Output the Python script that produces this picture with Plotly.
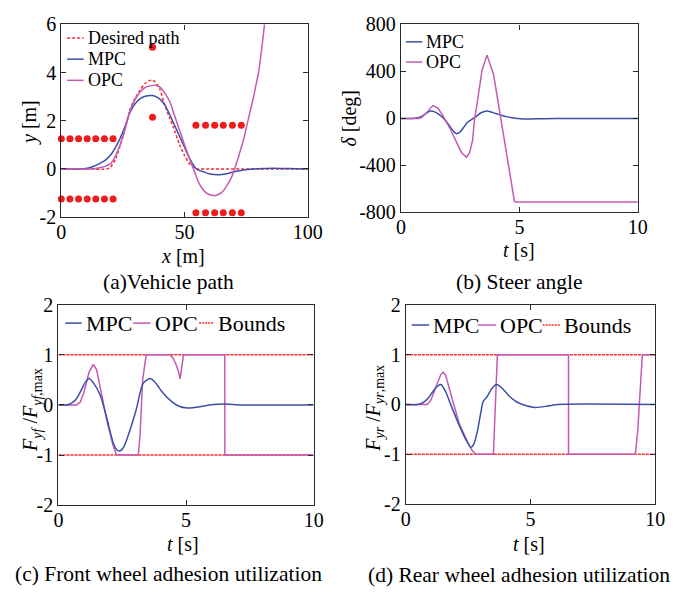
import plotly.graph_objects as go

# ---------------- data ----------------
# (a) Vehicle path
desired_x = [0, 10, 18.5, 20, 22, 24, 26, 28, 30, 32, 34, 36, 37, 38, 40, 41.5, 44, 45.4, 48, 50, 52, 54, 55, 60, 80, 100]
desired_y = [0, 0, 0, 0.08, 0.42, 1.0, 1.7, 2.5, 2.95, 3.28, 3.55, 3.68, 3.68, 3.62, 3.3, 2.8, 2.1, 1.75, 1.0, 0.56, 0.22, 0.03, 0, 0, 0, 0]
mpc_x = [0, 8, 10, 12, 14, 16, 18, 20, 22, 24, 26, 27.7, 30, 32, 34, 36.9, 38, 40, 42, 44, 46, 48, 50, 52, 54.8, 58, 60, 63.8, 67, 70, 74, 78, 82, 86, 90, 95, 100]
mpc_y = [0, 0, 0.02, 0.07, 0.15, 0.25, 0.38, 0.58, 0.9, 1.3, 1.8, 2.32, 2.72, 2.92, 3.02, 3.05, 3.02, 2.9, 2.65, 2.25, 1.8, 1.35, 0.9, 0.45, 0, -0.13, -0.2, -0.24, -0.2, -0.12, -0.04, 0, 0.02, 0.03, 0.02, 0.01, 0]
opc_x = [0, 12, 14, 16, 18, 20, 22, 24, 26, 27.7, 30, 32, 34, 36, 38.2, 40, 42, 44, 46, 48, 49.3, 50, 52, 54, 56, 58, 60, 62.5, 65, 67, 69, 70.3, 72, 74, 75.3, 76.5, 78, 79, 80, 81, 82.1, 83, 84]
opc_y = [0, 0, 0.02, 0.06, 0.12, 0.22, 0.55, 1.05, 1.7, 2.38, 2.9, 3.2, 3.38, 3.45, 3.48, 3.4, 3.15, 2.8, 2.2, 1.6, 1.22, 1.0, 0.43, -0.1, -0.62, -0.92, -1.06, -1.1, -0.98, -0.72, -0.35, 0, 0.55, 1.25, 1.82, 2.35, 3.0, 3.5, 4.0, 4.75, 5.7, 6.5, 7.3]
obs_x = [0, 3.5, 7, 10.5, 14, 17.5, 21, 0, 3.5, 7, 10.5, 14, 17.5, 21, 37, 37,
         54.6, 58.5, 62.2, 65.7, 69.4, 73, 54.6, 58.5, 62.2, 65.7, 69.4, 73]
obs_y = [1.25] * 7 + [-1.25] * 7 + [5.05, 2.15] + [1.82] * 6 + [-1.82] * 6

# (b) Steer angle
steer_mpc_t = [0, 0.5, 0.7, 0.9, 1.1, 1.24, 1.4, 1.6, 1.8, 2.0, 2.2, 2.34, 2.5, 2.65, 2.81, 3.02, 3.2, 3.4, 3.63, 3.8, 4.0, 4.25, 4.5, 4.75, 4.93, 5.3, 6, 7, 10]
steer_mpc = [0, 0, 5, 20, 48, 63, 58, 35, 0, -50, -105, -130, -115, -75, -33, -5, 20, 50, 63, 55, 42, 27, 13, 4, 0, -5, -3, 0, 0]
steer_opc_t = [0, 0.76, 0.9, 1.1, 1.35, 1.55, 1.75, 2.06, 2.3, 2.55, 2.77, 2.9, 3.02, 3.11, 3.22, 3.42, 3.63, 3.75, 3.9, 3.97, 4.2, 4.4, 4.6, 4.79, 4.85, 10]
steer_opc = [0, 0, 10, 55, 109, 90, 30, -82, -190, -290, -332, -290, -190, 0, 136, 408, 539, 470, 381, 299, 20, -225, -470, -707, -713, -713]

# (c) Front wheel adhesion utilization
front_mpc_t = [0, 0.32, 0.5, 0.7, 0.9, 1.05, 1.2, 1.4, 1.65, 1.9, 2.15, 2.3, 2.4, 2.55, 2.72, 3.04, 3.32, 3.6, 3.8, 4.05, 4.43, 4.7, 5.06, 5.7, 6.07, 6.5, 7.2, 10]
front_mpc = [0, 0, 0.03, 0.12, 0.3, 0.45, 0.53, 0.42, 0.18, -0.27, -0.76, -0.9, -0.92, -0.85, -0.63, -0.11, 0.43, 0.53, 0.45, 0.27, 0.07, -0.02, -0.06, -0.02, 0.01, 0.02, 0, 0]
front_opc_t = [0, 0.7, 0.85, 1.0, 1.2, 1.37, 1.5, 1.65, 1.9, 2.15, 2.28, 3.13, 3.2, 3.3, 3.44, 4.37, 4.5, 4.6, 4.7, 4.77, 4.85, 4.9, 6.52, 6.521, 10]
front_opc = [0, 0, 0.05, 0.25, 0.65, 0.81, 0.7, 0.34, -0.31, -0.82, -1, -1, -0.6, 0.5, 1, 1, 0.93, 0.82, 0.68, 0.52, 0.85, 1, 1, -1, -1]

# (d) Rear wheel adhesion utilization
rear_mpc_t = [0, 0.47, 0.7, 0.9, 1.1, 1.25, 1.41, 1.6, 1.83, 2.15, 2.4, 2.61, 2.72, 2.87, 3.0, 3.1, 3.26, 3.45, 3.64, 3.85, 4.16, 4.45, 4.68, 5.2, 5.7, 6.1, 10]
rear_mpc = [0, 0, 0.04, 0.13, 0.27, 0.36, 0.4, 0.25, -0.04, -0.43, -0.7, -0.86, -0.8, -0.53, -0.18, 0.06, 0.16, 0.32, 0.4, 0.33, 0.16, 0.05, 0, -0.06, -0.03, 0, 0]
rear_opc_t = [0, 0.86, 1.0, 1.2, 1.4, 1.5, 1.6, 1.83, 2.15, 2.48, 2.65, 2.8, 3.51, 3.67, 6.52, 6.521, 9.2, 9.3, 9.4, 9.48, 10]
rear_opc = [0, 0, 0.08, 0.35, 0.6, 0.65, 0.58, 0.16, -0.4, -0.76, -0.92, -1, -1, 1, 1, -1, -1, -0.5, 0.3, 1, 1]

bound_t = [0, 10]
bound_up = [1, 1]
bound_lo = [-1, -1]

# tick labels
a_xticks = [0, 50, 100]
a_yticks = [-2, 0, 2, 4, 6]
b_yticks = [-800, -400, 0, 400, 800]
t_ticks = [0, 5, 10]
f_yticks = [-2, -1, 0, 1, 2]

# ---------------- style ----------------
W, H = 680, 598
FONT = "Liberation Serif, Times New Roman, serif"
C_MPC = "#3B4FA8"
C_OPC = "#C45AB3"
C_RED = "#FF2A2A"
LW = 1.5


def px(x, y):
    return x / W, 1 - y / H


def dom(x0, x1, y0, y1):
    return [x0 / W, x1 / W], [1 - y1 / H, 1 - y0 / H]


fig = go.Figure()


def line(x, y, color, n, dash=None, name="", smooth=False):
    ln = dict(color=color, width=LW, dash=dash)
    if smooth:
        ln.update(shape="spline", smoothing=0.7)
    fig.add_trace(go.Scatter(x=x, y=y, mode="lines", name=name, showlegend=False, line=ln,
                             xaxis="x" + (str(n) if n > 1 else ""), yaxis="y" + (str(n) if n > 1 else "")))


# (a)
line(desired_x, desired_y, C_RED, 1, dash="3px,2px", name="Desired path", smooth=True)
line(mpc_x, mpc_y, C_MPC, 1, name="MPC", smooth=True)
line(opc_x, opc_y, C_OPC, 1, name="OPC", smooth=True)
fig.add_trace(go.Scatter(x=obs_x, y=obs_y, mode="markers", showlegend=False, cliponaxis=False,
                         marker=dict(color="#EE1C1C", size=7), xaxis="x", yaxis="y"))
# (b)
line(steer_mpc_t, steer_mpc, C_MPC, 2, name="MPC", smooth=True)
line(steer_opc_t, steer_opc, C_OPC, 2, name="OPC")
# (c)
line(bound_t, bound_up, C_RED, 3, dash="3px,1px", name="Bounds")
line(bound_t, bound_lo, C_RED, 3, dash="3px,1px")
line(front_opc_t, front_opc, C_OPC, 3, name="OPC")
line(front_mpc_t, front_mpc, C_MPC, 3, name="MPC", smooth=True)
# (d)
line(bound_t, bound_up, C_RED, 4, dash="3px,1px", name="Bounds")
line(bound_t, bound_lo, C_RED, 4, dash="3px,1px")
line(rear_opc_t, rear_opc, C_OPC, 4, name="OPC")
line(rear_mpc_t, rear_mpc, C_MPC, 4, name="MPC", smooth=True)

axis_common = dict(showgrid=False, zeroline=False, showline=True, linecolor="#2a2a2a", linewidth=1.3,
                   mirror="ticks", ticks="inside", ticklen=5, tickcolor="#2a2a2a",
                   tickfont=dict(family=FONT, size=20, color="black"))
xaxis_extra = dict(ticklabelstandoff=-3)


def ticktext(vals):
    return [str(v) for v in vals]


xa, ya = dom(58, 312, 14, 214)
xb, yb = dom(408, 652, 14, 209)
xc, yc = dom(55, 318, 305, 513)
xd, yd = dom(413, 670, 305, 512)

fig.update_layout(
    width=W, height=H, margin=dict(l=0, r=0, t=0, b=0),
    paper_bgcolor="white", plot_bgcolor="white", showlegend=False,
    xaxis=dict(axis_common, **xaxis_extra, domain=xa, anchor="y", range=[0, 100], tickvals=a_xticks, ticktext=ticktext(a_xticks)),
    yaxis=dict(axis_common, domain=ya, anchor="x", range=[-2, 6], tickvals=a_yticks, ticktext=ticktext(a_yticks)),
    xaxis2=dict(axis_common, **xaxis_extra, domain=xb, anchor="y2", range=[0, 10], tickvals=t_ticks, ticktext=ticktext(t_ticks)),
    yaxis2=dict(axis_common, domain=yb, anchor="x2", range=[-800, 800], tickvals=b_yticks, ticktext=ticktext(b_yticks)),
    xaxis3=dict(axis_common, **xaxis_extra, domain=xc, anchor="y3", range=[0, 10], tickvals=t_ticks, ticktext=ticktext(t_ticks)),
    yaxis3=dict(axis_common, domain=yc, anchor="x3", range=[-2, 2], tickvals=f_yticks, ticktext=ticktext(f_yticks)),
    xaxis4=dict(axis_common, **xaxis_extra, domain=xd, anchor="y4", range=[0, 10], tickvals=t_ticks, ticktext=ticktext(t_ticks)),
    yaxis4=dict(axis_common, domain=yd, anchor="x4", range=[-2, 2], tickvals=f_yticks, ticktext=ticktext(f_yticks)),
)

# axis titles and captions as text: (text, cx, cy, angle, size)
texts = [
    ("<i>x</i> [m]", 183, 254, 0, 20),
    ("<i>y</i> [m]", 25, 116, -90, 20),
    ("<i>t</i> [s]", 530, 248, 0, 20),
    ("<i>δ</i> [deg]", 355, 111, -90, 20),
    ("<i>t</i> [s]", 183, 553, 0, 20),
    ("<i>F</i><sub><i>yf</i></sub> /<i>F</i><sub><i>yf</i>,max</sub>", 28, 414, -90, 20),
    ("<i>t</i> [s]", 540, 553, 0, 20),
    ("<i>F</i><sub><i>yr</i></sub> /<i>F</i><sub><i>yr</i>,max</sub>", 381, 412, -90, 20),
    ("(a)Vehicle path", 168, 281, 0, 21.5),
    ("(b) Steer angle", 530, 281, 0, 21.5),
    ("(c) Front wheel adhesion utilization", 168, 585, 0, 21.5),
    ("(d) Rear wheel adhesion utilization", 530, 586, 0, 21.5),
]
for text, cx, cy, ang, fs in texts:
    x, y = px(cx, cy)
    fig.add_annotation(text=text, x=x, y=y, xref="paper", yref="paper", showarrow=False, textangle=ang,
                       xanchor="center", yanchor="middle", font=dict(family=FONT, size=fs, color="black"))

# manual legends: (label, color, dash, line x0, line x1, y, fontsize)
legend_items = [
    ("Desired path", C_RED, "3px,2px", 64, 81, 28, 18),
    ("MPC", C_MPC, None, 64, 81, 50, 18),
    ("OPC", C_OPC, None, 64, 81, 72, 18),
    ("MPC", C_MPC, None, 413, 430, 32, 18),
    ("OPC", C_OPC, None, 413, 430, 53, 18),
    ("MPC", C_MPC, None, 62, 79, 324, 22),
    ("OPC", C_OPC, None, 132, 150, 324, 22),
    ("Bounds", C_RED, "2px,1px", 200, 215, 324, 22),
    ("MPC", C_MPC, None, 419, 437, 326, 22),
    ("OPC", C_OPC, None, 487, 506, 326, 22),
    ("Bounds", C_RED, "2px,1px", 554, 572, 326, 22),
]
for label, color, dash, x0, x1, y, fs in legend_items:
    p0 = px(x0, y)
    p1 = px(x1, y)
    fig.add_shape(type="line", xref="paper", yref="paper", x0=p0[0], x1=p1[0], y0=p0[1], y1=p1[1],
                  line=dict(color=color, width=LW, dash=dash))
    t = px(x1 + 2, y)
    fig.add_annotation(text=label, x=t[0], y=t[1], xref="paper", yref="paper", showarrow=False,
                       xanchor="left", yanchor="middle", font=dict(family=FONT, size=fs, color="black"))

fig.write_html("out.html")
